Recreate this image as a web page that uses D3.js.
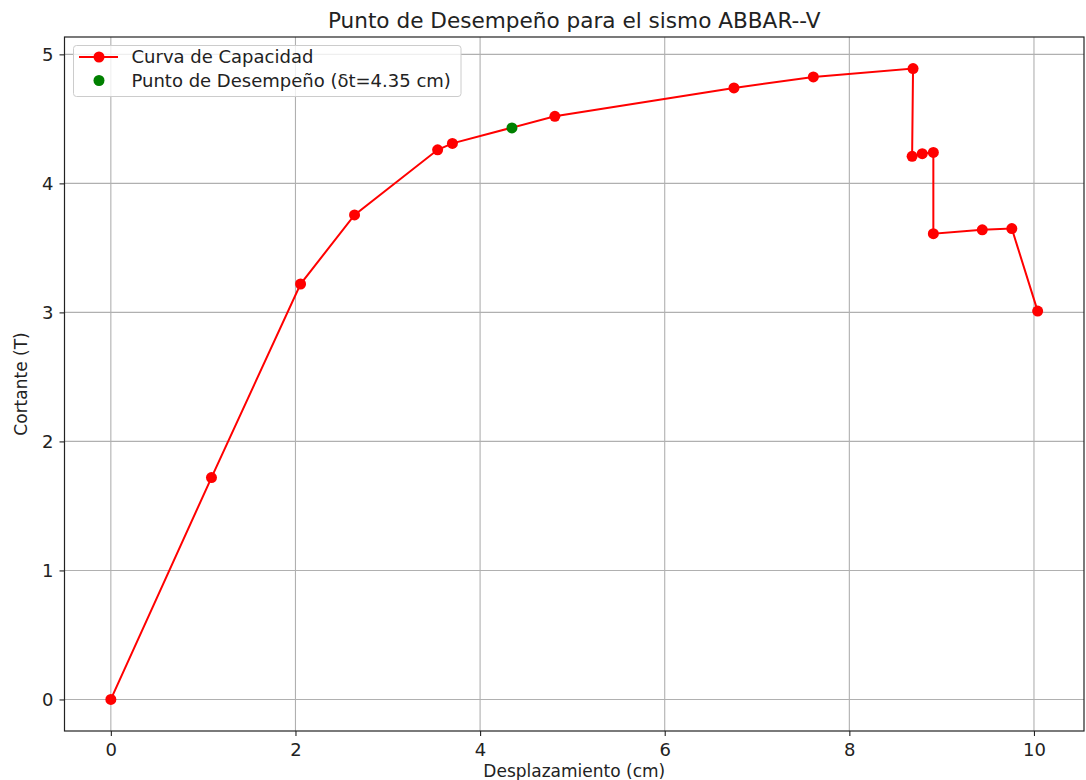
<!DOCTYPE html>
<html>
<head>
<meta charset="utf-8">
<script src="https://cdn.jsdelivr.net/npm/d3@7"></script>
<style>
  body { margin: 0; background: #fff; }
  text { font-family: "DejaVu Sans", sans-serif; fill: #222; }
</style>
</head>
<body>
<div id="my_dataviz"></div>
<script>
// capacity curve
var desplazamiento = [0, 1.09, 2.055, 2.64, 3.54, 3.70, 4.81, 6.75, 7.61, 8.69, 8.68, 8.79, 8.91, 8.91, 9.44, 9.76, 10.04];
var cortante = [0, 1.72, 3.22, 3.755, 4.26, 4.31, 4.52, 4.74, 4.825, 4.89, 4.21, 4.23, 4.24, 3.61, 3.64, 3.65, 3.01];

// performance point
var puntoDesplazamiento = [4.345];
var puntoCortante = [4.43];

var xTicks = [0, 2, 4, 6, 8, 10];
var yTicks = [0, 1, 2, 3, 4, 5];

var titulo = "Punto de Desempeño para el sismo ABBAR--V";
var etiquetaX = "Desplazamiento (cm)";
var etiquetaY = "Cortante (T)";
var leyenda = ["Curva de Capacidad", "Punto de Desempeño (δt=4.35 cm)"];

// set the dimensions and margins of the graph
var margin = {top: 37, right: 2, bottom: 49, left: 64.5},
    width = 1086 - margin.left - margin.right,
    height = 780 - margin.top - margin.bottom;

var svg = d3.select("#my_dataviz")
            .append("svg")
              .attr("width", 1086)
              .attr("height", 780)
            .append("g")
              .attr("transform", "translate(" + margin.left + "," + margin.top + ")");

var data = desplazamiento.map(function(d, i) { return {x: d, y: cortante[i]}; });
var punto = puntoDesplazamiento.map(function(d, i) { return {x: d, y: puntoCortante[i]}; });

// matplotlib style 5% padding
function padded(ext) {
  var pad = (ext[1] - ext[0]) * 0.05;
  return [ext[0] - pad, ext[1] + pad];
}

var x = d3.scaleLinear()
  .domain(padded(d3.extent(desplazamiento)))
  .range([0, width]);

var y = d3.scaleLinear()
  .domain(padded(d3.extent(cortante)))
  .range([height, 0]);

// grid
svg.append("g").selectAll("line.gx")
  .data(xTicks).enter().append("line")
    .attr("x1", function(d) { return x(d); })
    .attr("x2", function(d) { return x(d); })
    .attr("y1", 0).attr("y2", height)
    .style("stroke", "#b0b0b0").style("stroke-width", 1.1);
svg.append("g").selectAll("line.gy")
  .data(yTicks).enter().append("line")
    .attr("y1", function(d) { return y(d); })
    .attr("y2", function(d) { return y(d); })
    .attr("x1", 0).attr("x2", width)
    .style("stroke", "#b0b0b0").style("stroke-width", 1.1);

// axes
var xAxis = svg.append("g")
  .attr("transform", "translate(0," + height + ")")
  .call(d3.axisBottom(x).tickValues(xTicks).tickFormat(d3.format("d")).tickSize(5).tickPadding(7));
var yAxis = svg.append("g")
  .call(d3.axisLeft(y).tickValues(yTicks).tickFormat(d3.format("d")).tickSize(5).tickPadding(6));
[xAxis, yAxis].forEach(function(a) {
  a.select(".domain").remove();
  a.selectAll("line").style("stroke", "#222").style("stroke-width", 1.1);
  a.selectAll("text").style("font-size", "18px").style("font-family", "DejaVu Sans").attr("fill", "#222");
});

// frame
svg.append("rect")
  .attr("width", width).attr("height", height)
  .style("fill", "none").style("stroke", "#222").style("stroke-width", 1.2);

// curve
var line = d3.line()
  .x(function(d) { return x(d.x); })
  .y(function(d) { return y(d.y); });

svg.append("path")
  .datum(data)
  .attr("d", line)
  .style("fill", "none")
  .style("stroke", "red")
  .style("stroke-width", 2);

svg.append("g").selectAll("circle")
  .data(data).enter().append("circle")
    .attr("cx", function(d) { return x(d.x); })
    .attr("cy", function(d) { return y(d.y); })
    .attr("r", 5.5)
    .style("fill", "red");

svg.append("g").selectAll("circle")
  .data(punto).enter().append("circle")
    .attr("cx", function(d) { return x(d.x); })
    .attr("cy", function(d) { return y(d.y); })
    .attr("r", 5.5)
    .style("fill", "green");

// labels
svg.append("text")
   .attr("text-anchor", "middle")
   .attr("x", width / 2)
   .attr("y", -9.5)
   .style("font-size", "21.6px")
   .text(titulo);
svg.append("text")
   .attr("text-anchor", "middle")
   .attr("x", width / 2)
   .attr("y", height + 45.5)
   .style("font-size", "17px")
   .text(etiquetaX);
svg.append("text")
   .attr("text-anchor", "middle")
   .attr("transform", "translate(" + (27 - margin.left) + "," + (height / 2) + ") rotate(-90)")
   .style("font-size", "17px")
   .text(etiquetaY);

// legend
var lg = svg.append("g").attr("transform", "translate(" + (73.5 - margin.left) + "," + (45.5 - margin.top) + ")");
lg.append("rect")
  .attr("width", 387.5).attr("height", 51).attr("rx", 3)
  .style("fill", "white").style("fill-opacity", 0.8)
  .style("stroke", "#cccccc").style("stroke-width", 1);
lg.append("line")
  .attr("x1", 5.5).attr("x2", 44.5).attr("y1", 11.5).attr("y2", 11.5)
  .style("stroke", "red").style("stroke-width", 2);
lg.append("circle").attr("cx", 25.5).attr("cy", 11.5).attr("r", 5.5).style("fill", "red");
lg.append("circle").attr("cx", 25.5).attr("cy", 35).attr("r", 5.5).style("fill", "green");
lg.selectAll("text.lg")
  .data(leyenda).enter().append("text")
    .attr("x", 58)
    .attr("y", function(d, i) { return i === 0 ? 11.5 : 35; })
    .attr("dy", "0.36em")
    .style("font-size", "18px")
    .text(function(d) { return d; });
</script>
</body>
</html>
